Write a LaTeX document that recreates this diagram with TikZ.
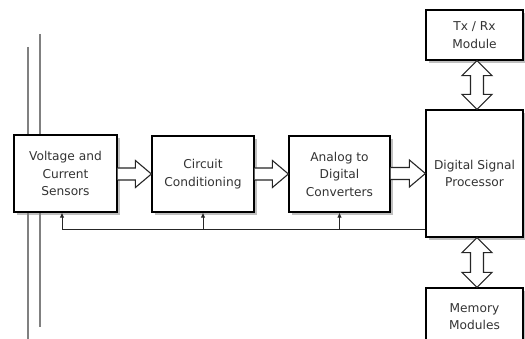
\documentclass[tikz,border=0pt]{standalone}
\usepackage{fontspec}
\setmainfont{DejaVu Sans}
\usetikzlibrary{shadows,calc,arrows.meta}
\definecolor{txt}{HTML}{333333}
\tikzset{
  x=1pt, y=-1pt,
  blk/.style={draw=black, line width=1.2pt, fill=white, inner sep=0pt, align=center,
    text=txt, font=\fontsize{12.2}{17.5}\selectfont,
    drop shadow={shadow xshift=3pt, shadow yshift=-3pt, fill=gray, opacity=0.5}},
  hollow/.style={draw=black!85, line width=1.1pt, fill=white, line join=miter},
  fb/.style={draw=black!85, line width=1pt},
  fbarrow/.style={fb, -{Latex[length=5pt,width=4.5pt]}},
  rail/.style={draw=gray, line width=2pt}
}
\newcommand\rarrow[2]{\draw[hollow] let \p1=(#1.east), \p2=(#2.west) in
  (\x1,\y2+6) -- (\x2-16,\y2+6) -- (\x2-16,\y2+13.5) -- (\x2,\y2) -- (\x2-16,\y2-13.5) -- (\x2-16,\y2-6) -- (\x1,\y2-6);}
\newcommand\vdarrow[3]{\draw[hollow] let \p1=(#1.south), \p2=(#2.north) in
  (#3,\y1) -- (#3+15,\y1-15) -- (#3+6.5,\y1-15) -- (#3+6.5,\y2+15) -- (#3+15,\y2+15) -- (#3,\y2)
  -- (#3-15,\y2+15) -- (#3-6.5,\y2+15) -- (#3-6.5,\y1-15) -- (#3-15,\y1-15) -- cycle;}
\begin{document}
\begin{tikzpicture}
\useasboundingbox (0,0) rectangle (525,339);
% rails
\draw[rail] (28,47) coordinate (r1a) -- (28,339) coordinate (r1b);
\draw[rail] (40,34) coordinate (r2a) -- (40,327) coordinate (r2b);
% blocks
\node[blk, minimum width=103pt, minimum height=77pt] (b1) at (65.5,173.5) {Voltage and\\Current\\Sensors};
\node[blk, minimum width=102pt, minimum height=76pt] (b2) at (203,174) {Circuit\\Conditioning};
\node[blk, minimum width=101pt, minimum height=76pt] (b3) at (339.5,174) {Analog to\\Digital\\Converters};
\node[blk, minimum width=97pt, minimum height=127pt] (dsp) at (474.5,173.5) {Digital Signal\\Processor};
\node[blk, minimum width=97pt, minimum height=50pt] (tx) at (474.5,35) {Tx / Rx\\Module};
\node[blk, minimum width=97pt, minimum height=57pt] (mem) at (474.5,316.5) {Memory\\Modules};
% hollow arrows
\rarrow{b1}{b2}
\rarrow{b2}{b3}
\rarrow{b3}{dsp}
\vdarrow{tx}{dsp}{477}
\vdarrow{dsp}{mem}{477}
% feedback
\coordinate (f1) at (62,230);
\draw[fb] (dsp.west |- f1) -- (f1);
\draw[fbarrow] (f1) -- (f1 |- b1.south);
\draw[fbarrow] (b2.south |- f1) -- (b2.south);
\draw[fbarrow] (b3.south |- f1) -- (b3.south);
\end{tikzpicture}
\end{document}
